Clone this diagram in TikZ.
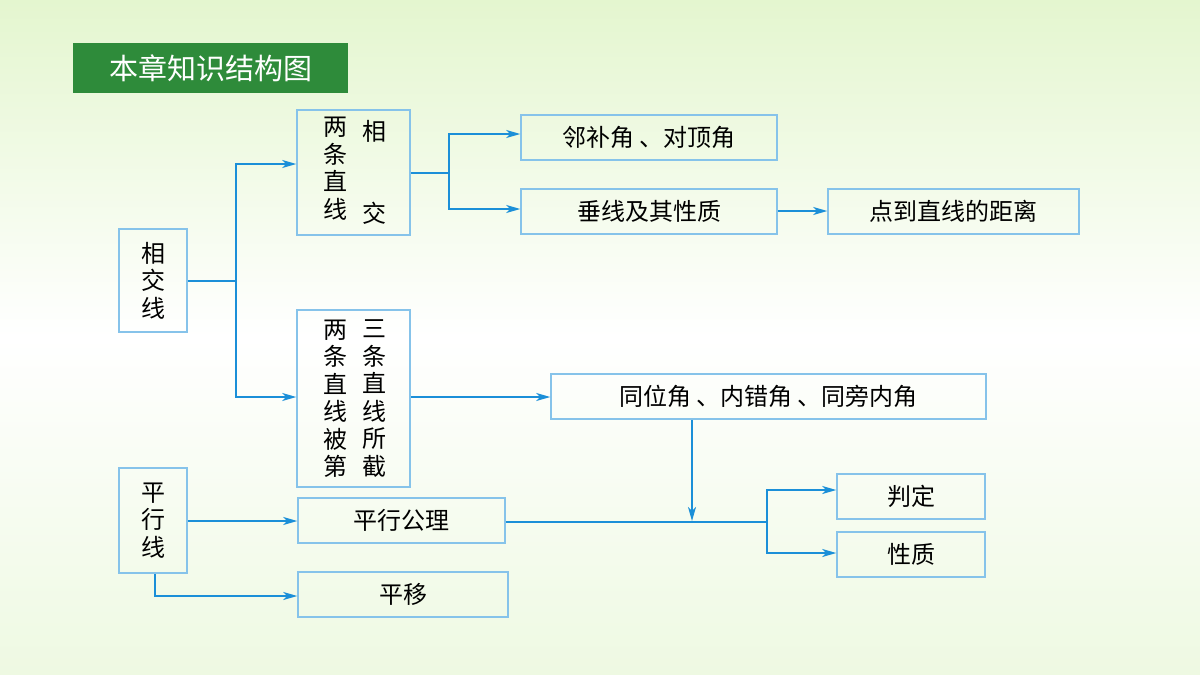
\documentclass[tikz,border=0pt]{standalone}
\usepackage{fontspec}
\setmainfont{Noto Sans CJK SC}
\usetikzlibrary{arrows.meta}
\definecolor{bx}{HTML}{86C3EA}
\definecolor{ar}{HTML}{1B8FD8}
\definecolor{tg}{HTML}{2E8B3A}
\definecolor{bgt}{HTML}{E4F6CF}
\definecolor{bgb}{HTML}{EEF9E2}
\begin{document}
\begin{tikzpicture}[x=1pt,y=-1pt,
  box/.style={draw=bx,line width=1.5pt,inner sep=0pt},
  txt/.style={font=\fontsize{24}{27.5}\selectfont,align=center,inner sep=0pt},
  con/.style={draw=ar,line width=1.4pt},
  arr/.style={con,-{Stealth[length=14pt,width=8pt,inset=4pt]}}]
\shade[top color=bgt, bottom color=bgb, middle color=white] (0,0) rectangle (1200,675);
\useasboundingbox (0,0) rectangle (1200,675);
\node[fill=tg,minimum width=275pt,minimum height=50pt,inner sep=0pt,text=white,font=\fontsize{29}{30}\selectfont] (title) at (210.5,68) {本章知识结构图};
% boxes
\node[box,minimum width=68pt,minimum height=103pt] (xj) at (153,280.5) {};
\node[txt] at (153,280.5) {相\\交\\线};
\node[box,minimum width=113pt,minimum height=125pt] (xjA) at (353.5,172.5) {};
\node[txt,anchor=north] at (335,117) {两\\条\\直\\线};
\node[txt] at (374,131) {相};
\node[txt] at (374,213) {交};
\node[box,minimum width=113pt,minimum height=177pt] (jie) at (353.5,398.5) {};
\node[txt] at (335,398.5) {两\\条\\直\\线\\被\\第};
\node[txt] at (374,398.5) {三\\条\\直\\线\\所\\截};
\node[box,minimum width=256pt,minimum height=45pt,txt] (lb) at (649,137.5) {邻补角 、对顶角};
\node[box,minimum width=256pt,minimum height=45pt,txt] (cx) at (649,211.5) {垂线及其性质};
\node[box,minimum width=251pt,minimum height=45pt,txt] (jl) at (953.5,211.5) {点到直线的距离};
\node[box,minimum width=435pt,minimum height=45pt,txt] (tw) at (768.5,396.5) {同位角 、内错角 、同旁内角};
\node[box,minimum width=68pt,minimum height=105pt] (px) at (153,520.5) {};
\node[txt] at (153,520.5) {平\\行\\线};
\node[box,minimum width=207pt,minimum height=45pt,txt] (gl) at (401.5,520.5) {平行公理};
\node[box,minimum width=210pt,minimum height=45pt,txt] (py) at (403,594.5) {平移};
\node[box,minimum width=148pt,minimum height=45pt,txt] (pd) at (911,496.5) {判定};
\node[box,minimum width=148pt,minimum height=45pt,txt] (xz) at (911,554.5) {性质};
% connectors
\coordinate (j1) at (236,281);
\draw[con] (xj.east|-j1) -- (j1);
\draw[arr] (j1) |- (xjA.west|-0,164);
\draw[arr] (j1) |- (jie.west|-0,397);
\coordinate (j2) at (449,173);
\draw[con] (xjA.east|-j2) -- (j2);
\draw[arr] (j2) |- (lb.west|-0,134);
\draw[arr] (j2) |- (cx.west|-0,209);
\draw[arr] (cx.east|-0,211) -- (jl.west|-0,211);
\draw[arr] (jie.east|-0,397) -- (tw.west|-0,397);
\coordinate (j3) at (767,522);
\draw[con] (gl.east|-j3) -- (j3);
\draw[arr] (tw.south-|692,0) -- (692,521);
\draw[arr] (j3) |- (pd.west|-0,490);
\draw[arr] (j3) |- (xz.west|-0,553);
\draw[arr] (px.east|-0,521) -- (gl.west|-0,521);
\draw[arr] (px.south-|155,0) |- (py.west|-0,596);
\end{tikzpicture}
\end{document}
